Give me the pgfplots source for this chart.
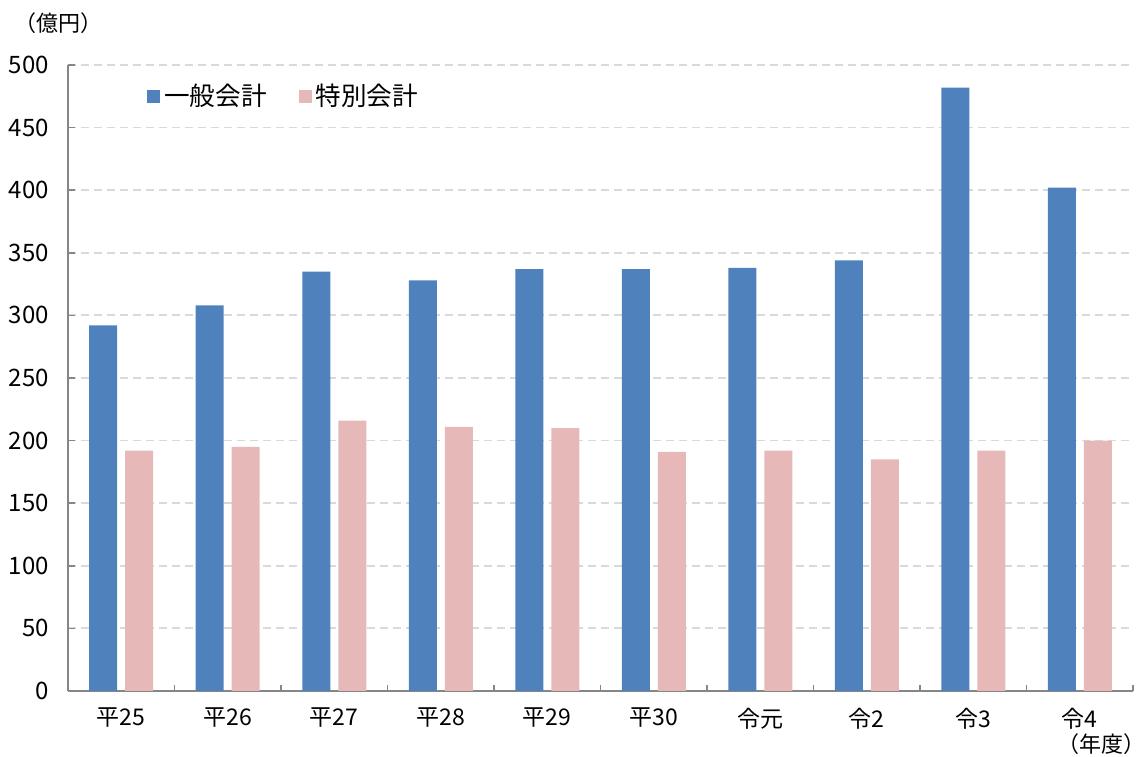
\documentclass[border=0pt]{standalone}
\usepackage{pgfplots}
\pgfplotsset{compat=1.18}
\usepackage{fontspec}
\setmainfont{Noto Sans CJK JP}
\definecolor{blueS}{HTML}{4F81BD}
\definecolor{pinkS}{HTML}{E6B9B8}
\definecolor{axgray}{HTML}{868686}
\definecolor{gridgray}{HTML}{D9D9D9}
\begin{document}
\begin{tikzpicture}
\begin{axis}[
  scale only axis, width=532.5pt, height=313pt,
  ybar=4pt, bar width=14pt,
  xmin=-0.5, xmax=9.5, ymin=0, ymax=500,
  axis x line*=bottom, axis y line*=left,
  axis line style={draw=axgray, line width=0.75pt},
  xtick={0,...,9},
  xticklabels={平25,平26,平27,平28,平29,平30,令元,令2,令3,令4},
  minor xtick={-0.5,0.5,1.5,2.5,3.5,4.5,5.5,6.5,7.5,8.5,9.5},
  major x tick style={draw=none},
  minor x tick style={draw=axgray, line width=0.75pt},
  ytick={0,50,...,500},
  major y tick style={draw=axgray, line width=0.75pt},
  tick align=inside, major tick length=3.5pt, minor tick length=3pt,
  ymajorgrids, grid style={gridgray, dashed, dash pattern=on 4pt off 2.5pt, line width=0.9pt},
  /pgf/number format/assume math mode=true,
  tick label style={text=black},
  yticklabel style={xshift=-6pt, font=\fontsize{12pt}{14pt}\selectfont},
  xticklabel style={yshift=-5pt, font=\fontsize{11.5pt}{14pt}\selectfont},
  legend columns=2,
  legend style={at={(0.074,0.95)}, anchor=west, draw=none, fill=none, inner sep=0pt,
    font=\fontsize{12.8pt}{14pt}\selectfont,
    /tikz/every even column/.append style={column sep=14pt}},
  legend image code/.code={\fill[#1] (0pt,-3.25pt) rectangle (6.5pt,3.25pt);},
  clip=false,
]
\addplot[fill=blueS, draw=none] coordinates {(0,292) (1,308) (2,335) (3,328) (4,337) (5,337) (6,338) (7,344) (8,482) (9,402)};
\addplot[fill=pinkS, draw=none] coordinates {(0,192) (1,195) (2,216) (3,211) (4,210) (5,191) (6,192) (7,185) (8,192) (9,200)};
\legend{一般会計,特別会計}
\coordinate (sw) at (rel axis cs:0,0);
\coordinate (ne) at (rel axis cs:1,1);
\node[anchor=west, font=\fontsize{11pt}{12pt}\selectfont] at (rel axis cs:-0.0565,1.067) {（億円）};
\node[anchor=east, font=\fontsize{11pt}{12pt}\selectfont] at ([shift={(10pt,-26.5pt)}]rel axis cs:1,0) {（年度）};
\end{axis}
\pgfresetboundingbox
\path ([shift={(-34pt,-33pt)}]sw) rectangle ([shift={(7pt,32.5pt)}]ne);
\end{tikzpicture}
\end{document}
